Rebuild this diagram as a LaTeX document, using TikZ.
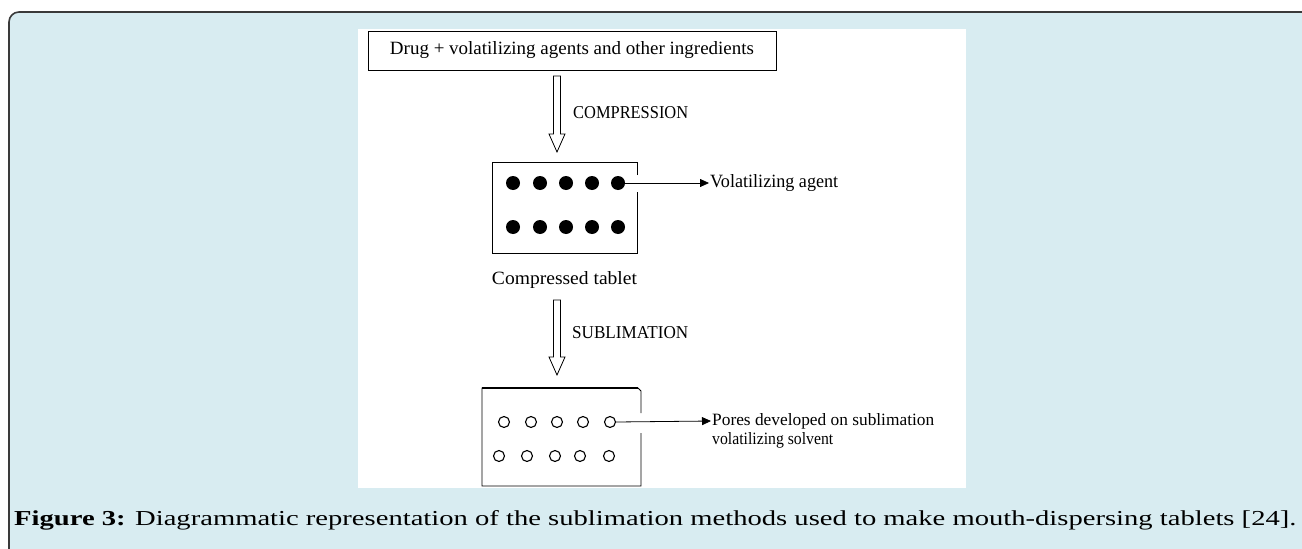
\documentclass[tikz,border=0pt]{standalone}
\usepackage{fontspec}
\setmainfont{Liberation Serif}
\newfontfamily\capfont{Liberation Serif}
\usetikzlibrary{arrows.meta}
\definecolor{bgblue}{HTML}{D8ECF1}
\definecolor{framecol}{HTML}{3A3A3A}
\newcommand{\fitw}[3]{\resizebox{#1}{#2}{#3}}
\begin{document}
\begin{tikzpicture}[x=1pt,y=-1pt,
  dot/.style={circle, fill=black, inner sep=0, minimum size=14pt},
  pore/.style={circle, draw=black, line width=1.1pt, inner sep=0, minimum size=11pt},
  lbl/.style={inner sep=0, anchor=west},
  hollow/.style={draw=black, line width=0.8pt, fill=white},
  pointer/.style={line width=0.8pt, shorten >=1pt, -{Triangle[length=9pt,width=8pt]}},
  box/.style={draw=black, line width=0.9pt}]
\useasboundingbox (0,0) rectangle (1302,549);
\clip (0,0) rectangle (1302,549);
\fill[bgblue, rounded corners=10pt] (9,12) rectangle (1330,580);
\draw[framecol, line width=1.6pt, rounded corners=10pt] (9,580) -- (9,12) -- (1330,12);
\fill[white] (358,29) rectangle (966,488);
% top box
\node[box, minimum width=408pt, minimum height=39pt, inner sep=0] (ing) at (572,50.5) {\fitw{364pt}{13pt}{Drug + volatilizing agents and other ingredients}};
% compression arrow
\draw[hollow] (553.5,76) -- (553.5,134) -- (549,134) -- (557,152) -- (565,134) -- (560.5,134) -- (560.5,76) -- cycle;
\node[lbl] (comp) at (573,113) {\fitw{115pt}{12pt}{COMPRESSION}};
% tablet 1
\draw[box] (637,175) -- (637,162) -- (492,162) -- (492,253) -- (637,253) -- (637,192);
\foreach \x [count=\i] in {513,540,566,592,618} {
  \node[dot] (d\i) at (\x,183) {};
  \node[dot] (e\i) at (\x,227) {};
}
\node[lbl] (va) at (710,183) {\fitw{128pt}{13pt}{Volatilizing agent}};
\draw[pointer] (d5.east) -- (va.west);
\node[inner sep=0] (ct) at (564.5,280) {\fitw{145pt}{13pt}{Compressed tablet}};
% sublimation arrow
\draw[hollow] (553.5,300) -- (553.5,357) -- (549,357) -- (557,375) -- (565,357) -- (560.5,357) -- (560.5,300) -- cycle;
\node[lbl] (sub) at (572,333) {\fitw{116pt}{12pt}{SUBLIMATION}};
% tablet 2
\draw[box] (641,413) -- (641,391) -- (638,388) -- (482,388) -- (482,486) -- (641,486) -- (641,433);
\draw[black, line width=1.4pt] (482,388) -- (638,388);
\foreach \x [count=\i] in {504,531,557,583,610} {
  \node[pore] (p\i) at (\x,422) {};
}
\foreach \x [count=\i] in {499,527,555,580,609} {
  \node[pore] (q\i) at (\x,456) {};
}
\node[lbl] (pd) at (712,421) {\fitw{222pt}{12pt}{Pores developed on sublimation}};
\node[lbl] (vs) at (712,440) {\fitw{121pt}{12pt}{volatilizing solvent}};
\draw[pointer] (p5.east) -- (pd.west);
% caption
\node[inner sep=0, anchor=west] (cap) at (14,520) {\resizebox{1282pt}{15pt}{\capfont\textbf{Figure 3:} Diagrammatic representation of the sublimation methods used to make mouth-dispersing tablets [24].}};
\end{tikzpicture}
\end{document}
